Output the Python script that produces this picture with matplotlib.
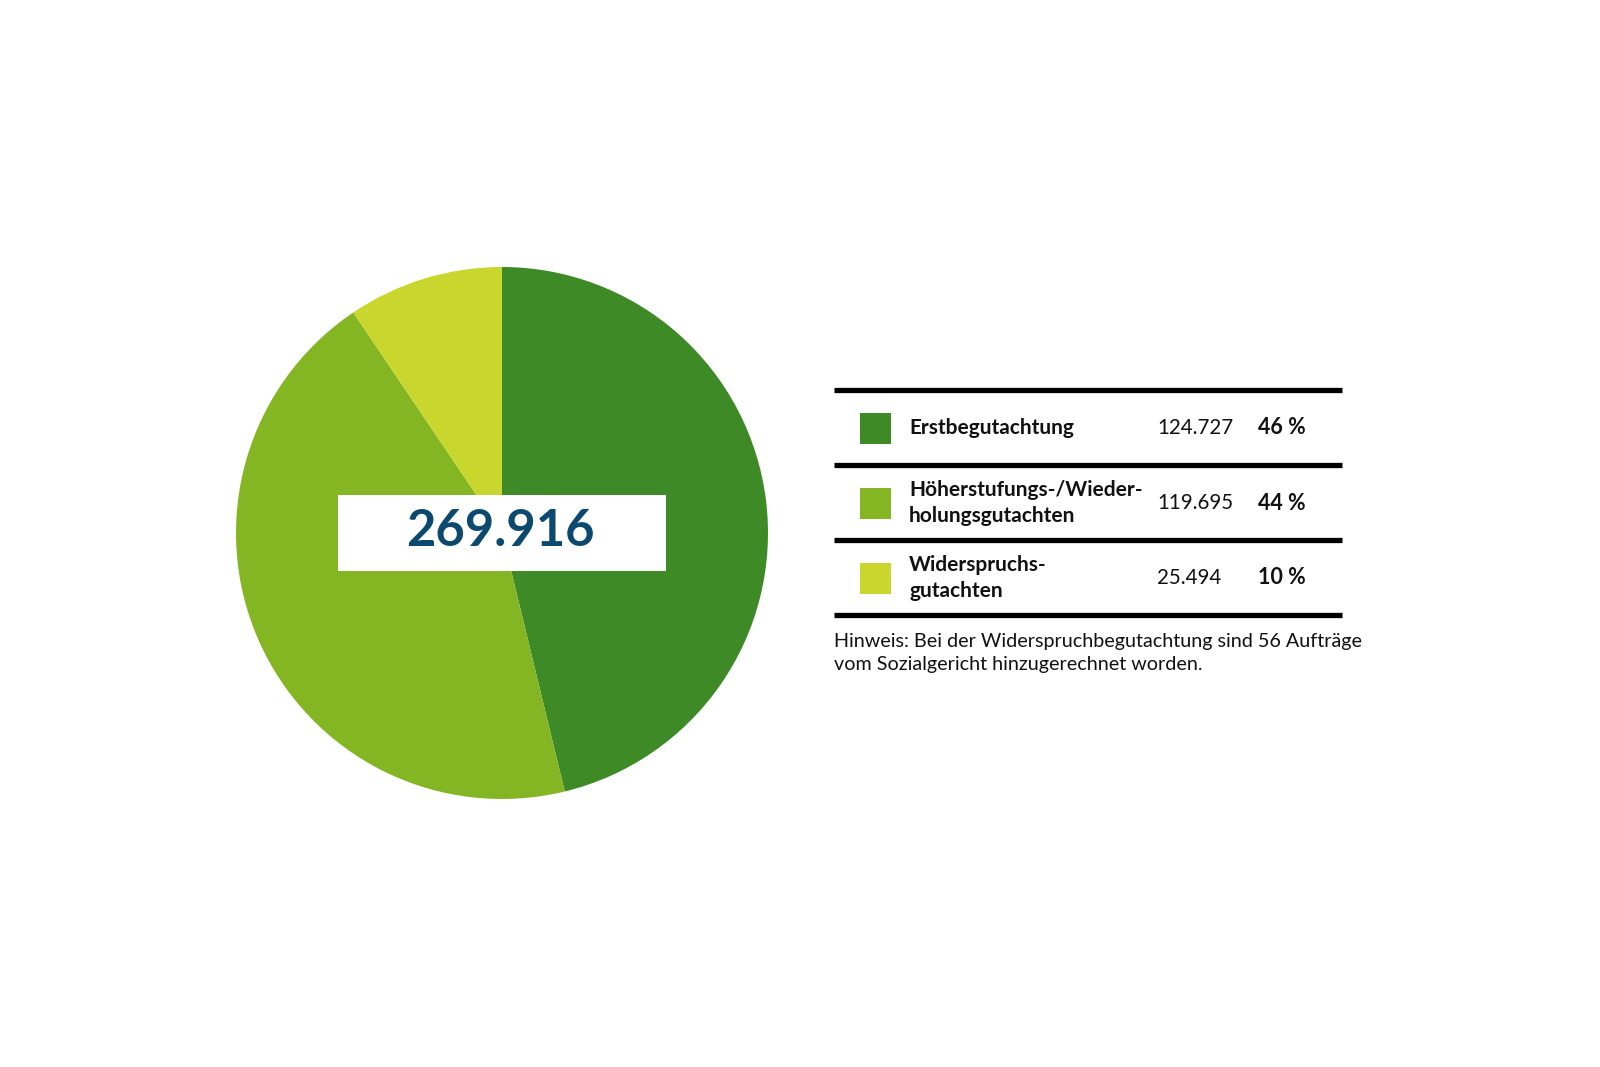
import matplotlib
matplotlib.use("Agg")
import matplotlib.pyplot as plt
from matplotlib.patches import Rectangle

# data
labels = ["Erstbegutachtung", "Höherstufungs-/Wieder-\nholungsgutachten", "Widerspruchs-\ngutachten"]
values = [124727, 119695, 25494]
value_txt = ["124.727", "119.695", "25.494"]
pct_txt = ["46 %", "44 %", "10 %"]
total_txt = "269.916"
note = ("Hinweis: Bei der Widerspruchbegutachtung sind 56 Aufträge\n"
        "vom Sozialgericht hinzugerechnet worden.")
colors = ["#3E8A26", "#84B523", "#C8D62E"]
NAVY = "#0B4A6E"

plt.rcParams["font.family"] = ["Lato", "DejaVu Sans"]

W, H = 1600, 1067
fig = plt.figure(figsize=(16, 10.67), dpi=100)
ax = fig.add_axes([0, 0, 1, 1])

def Y(y):  # pixel row from top -> data y
    return H - y

# pie
ax.pie(values, colors=colors, startangle=90, counterclock=False,
       center=(502, Y(533)), radius=266, wedgeprops=dict(linewidth=0))
ax.set_xlim(0, W); ax.set_ylim(0, H)
ax.set_aspect("equal"); ax.axis("off")

# white box with total
ax.add_patch(Rectangle((338, Y(571)), 328, 76, fc="white", ec="none", zorder=5))
ax.text(500, Y(532), total_txt, ha="center", va="center", fontsize=36.5,
        fontweight="bold", color=NAVY, zorder=6)

# table
line_y = [390, 465, 540, 615]
for y in line_y:
    ax.plot([834, 1342], [Y(y), Y(y)], color="black", lw=3.8, solid_capstyle="butt")
for i, (lab, c) in enumerate(zip(labels, colors)):
    yc = (line_y[i] + line_y[i + 1]) / 2 + 0.5
    ax.add_patch(Rectangle((860, Y(yc + 15.5)), 31, 31, fc=c, ec="none"))
    ax.text(909, Y(yc), lab, ha="left", va="center", fontsize=15,
            fontweight="bold", color="#111111", linespacing=1.4)
    ax.text(1157, Y(yc), value_txt[i], ha="left", va="center", fontsize=14.8,
            color="#111111")
    ax.text(1258, Y(yc), pct_txt[i], ha="left", va="center", fontsize=15.5,
            fontweight="bold", color="#111111")

ax.text(834, Y(633), note, ha="left", va="top", fontsize=14.2,
        color="#111111", linespacing=1.45)

fig.savefig("out.png", dpi=100)
